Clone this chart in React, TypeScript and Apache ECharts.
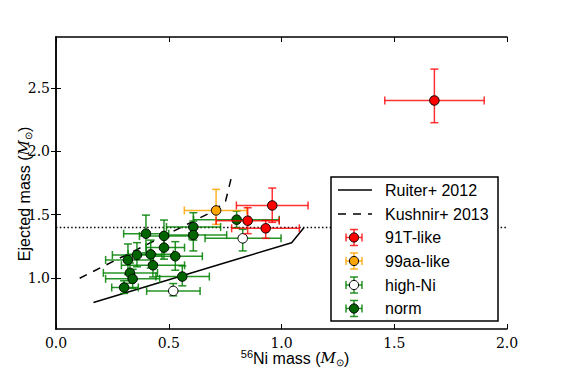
import React, { useEffect, useRef } from "react";
import * as echarts from "echarts";

// ---- data ----
// each row: [x, y, xLow, xHigh, yLow, yHigh]
const t91Like: number[][] = [
  [1.678, 2.4, 1.458, 1.899, 2.225, 2.647],
  [0.959, 1.573, 0.8, 1.118, 1.44, 1.71],
  [0.85, 1.453, 0.71, 0.99, 1.351, 1.555],
  [0.93, 1.393, 0.779, 1.079, 1.314, 1.455],
];
const aa99Like: number[][] = [[0.71, 1.534, 0.569, 0.846, 1.424, 1.7]];
const highNi: number[][] = [
  [0.828, 1.314, 0.661, 0.998, 1.215, 1.385],
  [0.52, 0.9, 0.402, 0.639, 0.861, 0.958],
];
const norm: number[][] = [
  [0.801, 1.461, 0.61, 0.99, 1.398, 1.529],
  [0.609, 1.403, 0.49, 0.73, 1.3, 1.516],
  [0.609, 1.34, 0.476, 0.757, 1.215, 1.45],
  [0.399, 1.351, 0.3, 0.5, 1.2, 1.497],
  [0.479, 1.333, 0.37, 0.59, 1.24, 1.458],
  [0.479, 1.241, 0.4, 0.57, 1.15, 1.33],
  [0.529, 1.173, 0.432, 0.649, 1.063, 1.288],
  [0.359, 1.183, 0.25, 0.47, 1.09, 1.28],
  [0.42, 1.188, 0.32, 0.52, 1.08, 1.3],
  [0.319, 1.144, 0.22, 0.42, 1.03, 1.27],
  [0.43, 1.102, 0.29, 0.57, 1.01, 1.19],
  [0.328, 1.042, 0.21, 0.45, 0.96, 1.12],
  [0.34, 0.995, 0.22, 0.46, 0.92, 1.07],
  [0.302, 0.927, 0.247, 0.365, 0.88, 0.98],
  [0.56, 1.013, 0.443, 0.68, 0.94, 1.097],
];
const ruiterX = [0.166, 1.045, 1.099];
const ruiterY = [0.809, 1.28, 1.398];
const kushnirX = [0.105, 0.7, 0.752, 0.78];
const kushnirY = [1.0, 1.53, 1.607, 1.81];
const chandraX = [0, 2];
const chandraY = [1.4, 1.4];
const xTicks = [0, 0.5, 1.0, 1.5, 2.0];
const yTicks = [1.0, 1.5, 2.0, 2.5];
const legendNames = ["Ruiter+ 2012", "Kushnir+ 2013", "91T-like", "99aa-like", "high-Ni", "norm"];

const SERIF = "'DejaVu Serif', serif";
const SANS = "'Liberation Sans', Arial, sans-serif";

const groups = [
  { name: "norm", data: norm, bar: "rgba(0,128,0,0.85)", fill: "#006400" },
  { name: "high-Ni", data: highNi, bar: "rgba(0,128,0,0.85)", fill: "#ffffff" },
  { name: "99aa-like", data: aa99Like, bar: "rgba(255,165,0,0.85)", fill: "#ffa500" },
  { name: "91T-like", data: t91Like, bar: "rgba(255,0,0,0.8)", fill: "#ff0000" },
];

function errRender(color: string) {
  return (params: any, api: any) => {
    const x = api.value(0), y = api.value(1);
    const xl = api.value(2), xh = api.value(3), yl = api.value(4), yh = api.value(5);
    const pL = api.coord([xl, y]), pR = api.coord([xh, y]);
    const pB = api.coord([x, yl]), pT = api.coord([x, yh]);
    const c = 4;
    const st = { stroke: color, lineWidth: 1.5 };
    const ln = (x1: number, y1: number, x2: number, y2: number) => ({
      type: "line", shape: { x1, y1, x2, y2 }, style: st,
    });
    return {
      type: "group",
      children: [
        ln(pL[0], pL[1], pR[0], pR[1]),
        ln(pB[0], pB[1], pT[0], pT[1]),
        ln(pL[0], pL[1] - c, pL[0], pL[1] + c),
        ln(pR[0], pR[1] - c, pR[0], pR[1] + c),
        ln(pB[0] - c, pB[1], pB[0] + c, pB[1]),
        ln(pT[0] - c, pT[1], pT[0] + c, pT[1]),
      ],
    };
  };
}

function legendGraphics(): any[] {
  const left = 331, top = 177, w = 167, h = 144;
  const rows = [190, 214, 237.5, 261, 285, 308.5];
  const els: any[] = [
    { type: "rect", shape: { x: left, y: top, width: w, height: h }, style: { fill: "#fff", stroke: "#000", lineWidth: 1.5 }, z: 100 },
  ];
  legendNames.forEach((name, i) => {
    const y = rows[i];
    els.push({ type: "text", x: 385, y, style: { text: name, font: `16px ${SANS}`, fill: "#000", textVerticalAlign: "middle" }, z: 101 });
  });
  els.push({ type: "line", shape: { x1: 338, y1: rows[0], x2: 372, y2: rows[0] }, style: { stroke: "#000", lineWidth: 1.5 }, z: 101 });
  els.push({ type: "line", shape: { x1: 338, y1: rows[1], x2: 372, y2: rows[1] }, style: { stroke: "#000", lineWidth: 1.5, lineDash: [8, 7] }, z: 101 });
  const legGroups = [groups[3], groups[2], groups[1], groups[0]];
  legGroups.forEach((g, k) => {
    const y = rows[2 + k];
    const cx = 354, d = 8, c = 4;
    const st = { stroke: g.bar, lineWidth: 1.5 };
    const segs = [
      [cx - d, y, cx + d, y], [cx, y - d, cx, y + d],
      [cx - d, y - c, cx - d, y + c], [cx + d, y - c, cx + d, y + c],
      [cx - c, y - d, cx + c, y - d], [cx - c, y + d, cx + c, y + d],
    ];
    segs.forEach((s) => els.push({ type: "line", shape: { x1: s[0], y1: s[1], x2: s[2], y2: s[3] }, style: st, z: 101 }));
    els.push({ type: "circle", shape: { cx, cy: y, r: 4.6 }, style: { fill: g.fill, stroke: "#000", lineWidth: 1 }, z: 102 });
  });
  return els;
}

export default function App() {
  const ref = useRef<HTMLDivElement>(null);
  useEffect(() => {
    if (!ref.current) return;
    const chart = echarts.init(ref.current, undefined, { renderer: "svg" });
    const axisLine = { lineStyle: { color: "#000", width: 1.5 } };
    const tick = { inside: true, length: 5, lineStyle: { color: "#000", width: 1 } };
    const series: any[] = [];
    series.push({
      type: "line", name: "chandra", data: chandraX.map((x, i) => [x, chandraY[i]]),
      showSymbol: false, lineStyle: { color: "#000", width: 1.5, type: [1.5, 2.3] }, z: 1, silent: true,
    });
    series.push({
      type: "line", name: "Ruiter+ 2012", data: ruiterX.map((x, i) => [x, ruiterY[i]]),
      showSymbol: false, lineStyle: { color: "#000", width: 1.5 }, z: 2,
    });
    series.push({
      type: "line", name: "Kushnir+ 2013", data: kushnirX.map((x, i) => [x, kushnirY[i]]),
      showSymbol: false, lineStyle: { color: "#000", width: 1.5, type: [8, 7] }, z: 2,
    });
    groups.forEach((g, gi) => {
      series.push({
        type: "custom", name: g.name + "-err", data: g.data, renderItem: errRender(g.bar),
        encode: { x: 0, y: 1 }, z: 3 + gi * 2,
      });
      series.push({
        type: "scatter", name: g.name, data: g.data.map((r) => [r[0], r[1]]), symbolSize: 9.5,
        itemStyle: { color: g.fill, borderColor: "#000", borderWidth: 1, opacity: 1 }, z: 4 + gi * 2,
      });
    });
    chart.setOption({
      animation: false,
      backgroundColor: "#fff",
      grid: { left: 56, top: 37, width: 451, height: 292, containLabel: false },
      xAxis: [
        {
          type: "value", min: 0, max: 2, interval: 0.5, position: "bottom",
          axisLine, axisTick: tick, splitLine: { show: false },
          axisLabel: { fontFamily: SERIF, fontSize: 14, color: "#000", margin: 7, formatter: (v: number) => v.toFixed(1) },
        },
        {
          type: "value", min: 0, max: 2, interval: 0.5, position: "top",
          axisLine, axisTick: tick, splitLine: { show: false }, axisLabel: { show: false },
        },
      ],
      yAxis: [
        {
          type: "value", min: 0.6, max: 2.9, position: "left",
          axisLine, axisTick: { ...tick, customValues: yTicks }, splitLine: { show: false },
          axisLabel: { customValues: yTicks, fontFamily: SERIF, fontSize: 14, color: "#000", margin: 6, formatter: (v: number) => v.toFixed(1) },
        },
        {
          type: "value", min: 0.6, max: 2.9, position: "right",
          axisLine, axisTick: { ...tick, customValues: yTicks }, splitLine: { show: false },
          axisLabel: { show: false, customValues: yTicks },
        },
      ],
      series,
      graphic: [
        {
          type: "text", x: 295, y: 358,
          style: {
            text: "{sup|56}{t|Ni mass (}{m|M}{sub|⊙}{t|)}",
            textAlign: "center", textVerticalAlign: "middle",
            rich: {
              sup: { fontFamily: SANS, fontSize: 11, verticalAlign: "top", lineHeight: 19, fill: "#000" },
              t: { fontFamily: SANS, fontSize: 16, lineHeight: 19, fill: "#000" },
              m: { fontFamily: SERIF, fontStyle: "italic", fontSize: 15, lineHeight: 19, fill: "#000" },
              sub: { fontFamily: SANS, fontSize: 10, verticalAlign: "bottom", lineHeight: 19, fill: "#000" },
            },
          },
          z: 100,
        },
        {
          type: "text", x: 24, y: 194, rotation: Math.PI / 2,
          style: {
            text: "{t|Ejected mass (}{m|M}{sub|⊙}{t|)}",
            textAlign: "center", textVerticalAlign: "middle",
            rich: {
              t: { fontFamily: SANS, fontSize: 16, lineHeight: 18, fill: "#000" },
              m: { fontFamily: SERIF, fontStyle: "italic", fontSize: 15, lineHeight: 18, fill: "#000" },
              sub: { fontFamily: SANS, fontSize: 10, verticalAlign: "bottom", lineHeight: 18, fill: "#000" },
            },
          },
          z: 100,
        },
        ...legendGraphics(),
      ],
    });
    return () => chart.dispose();
  }, []);
  return <div ref={ref} style={{ position: "fixed", left: 0, top: 0, width: 563, height: 375 }} />;
}
